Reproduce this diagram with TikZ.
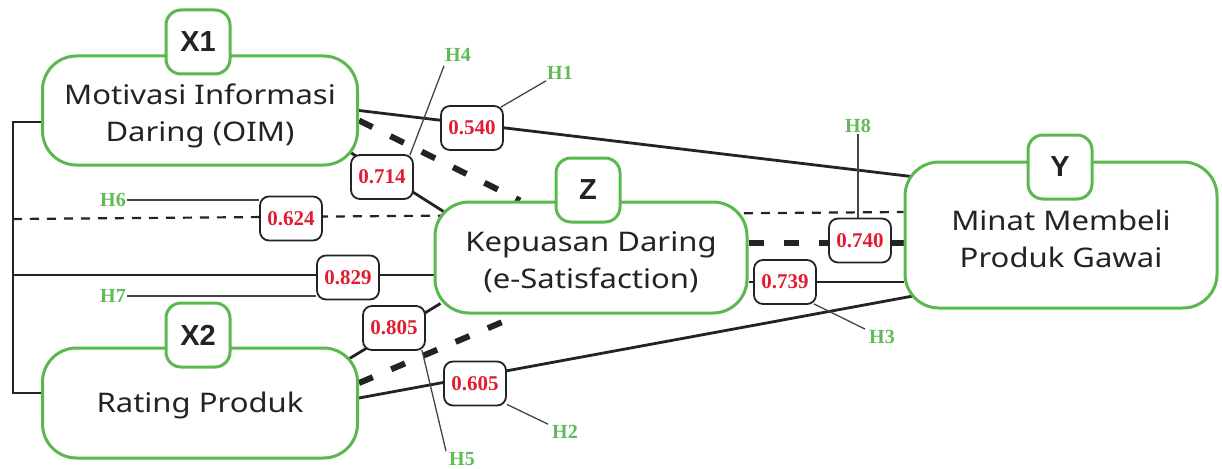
\documentclass[tikz,border=0pt]{standalone}
\usepackage{fontspec}
\setmainfont{Liberation Serif}
\newfontfamily\boxfont[FakeStretch=1.15]{Noto Sans}
\newfontfamily\tagfont{Liberation Sans}
\usetikzlibrary{calc}
\definecolor{boxgreen}{RGB}{90,184,78}
\definecolor{hypgreen}{RGB}{96,186,88}
\definecolor{valred}{RGB}{226,28,48}
\definecolor{inkgray}{RGB}{35,35,35}
\pgfdeclarelayer{bg}
\pgfsetlayers{bg,main}

\begin{document}
\begin{tikzpicture}[x=1pt,y=-1pt,
  construct/.style={draw=boxgreen, line width=3pt, fill=white, rounded corners=34pt, inner sep=0pt},
  construct text/.style={align=center, font=\boxfont\fontsize{27}{37}\selectfont, text=inkgray, inner sep=0pt},
  tagbox/.style={draw=boxgreen, line width=3pt, fill=white, rounded corners=15pt,
    minimum width=64pt, minimum height=64pt, inner sep=0pt,
    font=\tagfont\bfseries\fontsize{29}{29}\selectfont, text=inkgray},
  coef/.style={draw=inkgray, line width=1.8pt, fill=white, rounded corners=9pt,
    minimum width=62pt, minimum height=44pt, inner sep=0pt, text=valred,
    font=\bfseries\fontsize{21}{21}\selectfont},
  hyp/.style={text=hypgreen, font=\bfseries\fontsize{20}{20}\selectfont, inner sep=1pt},
  direct/.style={line width=2.8pt, draw=inkgray},
  mediated/.style={line width=6pt, draw=inkgray, dash pattern=on 15pt off 20pt},
  control/.style={line width=2.2pt, draw=inkgray, dash pattern=on 9pt off 8pt},
  leader/.style={line width=1.3pt, draw=inkgray!85},
]
\useasboundingbox (0,0) rectangle (1222,468);

% construct frames
\node[construct, minimum width=315pt, minimum height=109pt] (X1) at (200,110.5) {};
\node[construct, minimum width=315pt, minimum height=110pt] (X2) at (200,403) {};
\node[construct, minimum width=312pt, minimum height=111pt] (Z) at (591,257.5) {};
\node[construct, minimum width=312pt, minimum height=146pt] (Y) at (1061,235) {};

% construct names
\node[construct text] (X1name) at ([yshift=-5pt]X1.center) {Motivasi Informasi\\Daring (OIM)};
\node[construct text] (X2name) at ([yshift=-2pt]X2.center) {Rating Produk};
\node[construct text] (Zname) at ([yshift=-5pt]Z.center) {Kepuasan Daring\\(e-Satisfaction)};
\node[construct text] (Yname) at ([yshift=-4pt]Y.center) {Minat Membeli\\Produk Gawai};

% construct tags
\node[tagbox] (X1t) at (198,42) {X1};
\node[tagbox] (X2t) at (198,335) {X2};
\node[tagbox] (Zt) at (588,190) {Z};
\node[tagbox] (Yt) at (1060,167) {Y};

% bracket coordinates on the left
\coordinate (bt) at (13,122);
\coordinate (bm) at (13,219);
\coordinate (bl) at (13,275);
\coordinate (bb) at (13,393);

\begin{pgfonlayer}{bg}
  % left bracket
  \draw[direct, line join=miter] ([yshift=-11.5pt]X1.west) -- (bt) -- (bb) -- ([yshift=10pt]X2.west);
  % control path (dotted)
  \draw[control] (bm) -- ([yshift=23pt]Y.west);
  % bracket to Z
  \draw[direct] (bl) -- ([xshift=5pt,yshift=-17.5pt]Z.west);
  % X1 -> Y
  \draw[direct] (X1.east) -- ([xshift=12pt,yshift=58pt]Y.west);
  % X1 -> Z
  \draw[direct] ([xshift=-10pt,yshift=15pt]X1.south east) -- ([xshift=10pt,yshift=-11pt]Z.north west);
  \draw[mediated] ([yshift=-10pt]X1.east) -- ([xshift=-71pt]Z.north);
  % X2 -> Z
  \draw[direct] ([xshift=-9.5pt,yshift=-12pt]X2.north east) -- ([xshift=7pt,yshift=11pt]Z.south west);
  \draw[mediated] ([yshift=20pt]X2.east) -- ([xshift=-71pt]Z.south);
  % X2 -> Y
  \draw[direct] ([yshift=5pt]X2.east) -- ([xshift=15pt,yshift=-60pt]Y.west);
  % Z -> Y
  \draw[mediated] ([yshift=14.5pt]Z.east) -- ([yshift=-8pt]Y.west);
  \draw[direct] ([yshift=-24.5pt]Z.east) -- ([yshift=-47pt]Y.west);
\end{pgfonlayer}

% path coefficients
\node[coef] (v540) at (472,128) {0.540};
\node[coef] (v714) at (382,177) {0.714};
\node[coef] (v624) at (291,218.5) {0.624};
\node[coef] (v829) at (348,277.5) {0.829};
\node[coef] (v805) at (394,328) {0.805};
\node[coef] (v605) at (475,383.5) {0.605};
\node[coef] (v740) at (860,240.5) {0.740};
\node[coef] (v739) at (785,282) {0.739};

% hypothesis labels
\node[hyp] (H1) at (560,73) {H1};
\node[hyp] (H2) at (565,432) {H2};
\node[hyp] (H3) at (882,337) {H3};
\node[hyp] (H4) at (458,55) {H4};
\node[hyp] (H5) at (462,459) {H5};
\node[hyp] (H6) at (113,200) {H6};
\node[hyp] (H7) at (113,296) {H7};
\node[hyp] (H8) at (858,126) {H8};

% leaders
\draw[leader] ([xshift=-3pt,yshift=-2pt]v540.north east) -- (H1.south west);
\draw[leader] ([xshift=-4pt,yshift=-1pt]v714.north east) -- ([yshift=-3pt]H4.south west);
\draw[leader] (H6.east) -- (v624.west |- H6.east);
\draw[leader] (H7.east) -- (v829.west |- H7.east);
\draw[leader] ([xshift=-4pt,yshift=1pt]v805.south east) -- ([xshift=-2pt]H5.north west);
\draw[leader] ([yshift=2pt]v605.south east) -- ([xshift=-3pt]H2.north west);
\draw[leader] (H8.south) -- (H8.south |- v740.north);
\draw[leader] ([xshift=-3pt,yshift=1pt]v739.south east) -- ([xshift=-3pt]H3.north west);
\end{tikzpicture}
\end{document}
